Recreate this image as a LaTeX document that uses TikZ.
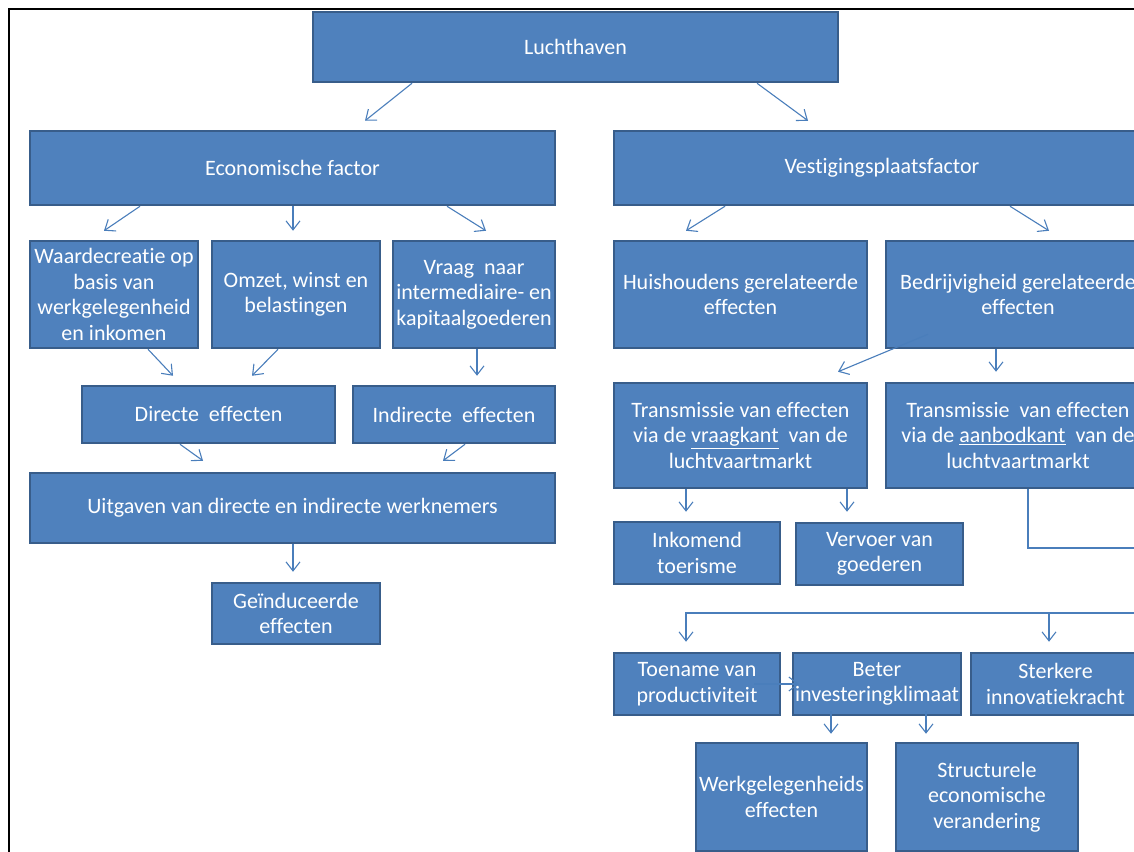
\documentclass[tikz,border=0pt]{standalone}
\usepackage{fontspec}
\setmainfont[Ligatures=NoCommon]{Carlito}
\usetikzlibrary{arrows.meta,calc}
\definecolor{boxfill}{HTML}{4F81BD}
\definecolor{boxline}{HTML}{385D8A}
\definecolor{linkblue}{HTML}{4A7EBB}

\begin{document}
\begin{tikzpicture}[x=1pt, y=-1pt,
  box/.style={draw=boxline, fill=boxfill, line width=2.5pt, text=white, align=center,
    inner sep=0pt, font=\fontsize{22}{25.5}\selectfont},
  arr/.style={draw=linkblue, line width=1.1pt, -{Straight Barb[length=9pt,width=14pt]}},
  link/.style={draw=linkblue, line width=1.1pt}]
\useasboundingbox (0,0) rectangle (1134,851);
%\draw[gray!20] (0,0) grid[step=50] (1134,851);
\draw[line width=2.8pt] (9,860) -- (9,9) -- (1150,9);
% top
\node[box, minimum width=525, minimum height=70] (lucht) at (575.5,47) {Luchthaven};
\node[box, minimum width=525, minimum height=74] (econ) at (292.5,168) {Economische factor};
\node[box, minimum width=536, minimum height=74] (vest) at (882,168) {Vestigingsplaatsfactor};
% left branch
\node[box, minimum width=168, minimum height=107] (waarde) at (114,294.5) {Waardecreatie op\\basis van\\werkgelegenheid\\en inkomen};
\node[box, minimum width=168, minimum height=107] (omzet) at (296,294.5) {Omzet, winst en\\belastingen};
\node[box, minimum width=162, minimum height=107] (vraag) at (474,294.5) {Vraag~~naar\\intermediaire- en\\kapitaalgoederen};
\node[box, minimum width=253, minimum height=57] (direct) at (208.5,414.5) {Directe~~effecten};
\node[box, minimum width=202, minimum height=57] (indirect) at (454,414.5) {Indirecte~~effecten};
\node[box, minimum width=525, minimum height=70] (uitgaven) at (292.5,508) {Uitgaven van directe en indirecte werknemers};
\node[box, minimum width=168, minimum height=61] (geind) at (296,613.5) {Geïnduceerde\\effecten};
% right branch
\node[box, minimum width=253, minimum height=107] (huis) at (740.5,294.5) {Huishoudens gerelateerde\\effecten};
\node[box, minimum width=264, minimum height=107] (bedrijf) at (1018,294.5) {Bedrijvigheid gerelateerde\\effecten};
\node[box, minimum width=253, minimum height=105] (transv) at (740.5,435.5) {Transmissie van effecten\\via de \underline{vraagkant}~~van de\\luchtvaartmarkt};
\node[box, minimum width=264, minimum height=105] (transa) at (1018,435.5) {Transmissie~~van effecten\\via de \underline{aanbodkant}~~van de\\luchtvaartmarkt};
\node[box, minimum width=166, minimum height=62] (inkomend) at (697,553) {Inkomend\\toerisme};
\node[box, minimum width=167, minimum height=62] (vervoer) at (879.5,554) {Vervoer van\\goederen};
\node[box, minimum width=166, minimum height=62] (toename) at (697,684) {Toename van\\productiviteit};
\node[box, minimum width=168, minimum height=62] (beter) at (877,684) {Beter\\investeringklimaat};
\node[box, minimum width=169, minimum height=62] (sterk) at (1055.5,684) {Sterkere\\innovatiekracht};
\node[box, minimum width=171, minimum height=108] (werk) at (781.5,797) {Werkgelegenheids\\effecten};
\node[box, minimum width=182, minimum height=108] (struct) at (987,797) {Structurele\\economische\\verandering};
\coordinate (offR) at (1150,548);
\coordinate (busR) at (1150,613);
\coordinate (busM) at (1049,613);
% arrows
\draw[arr] ($(lucht.south)+(-163.5,0)$) -- ($(econ.north)+(72.5,-9)$);
\draw[arr] ($(lucht.south)+(181.5,0)$) -- ($(vest.north)+(-74,-9)$);
\draw[arr] ($(econ.south)+(-152.5,0)$) -- ($(waarde.north)+(-10,-9)$);
\draw[arr] ($(econ.south)+(0.5,0)$) -- ($(omzet.north)+(-3,-9)$);
\draw[arr] ($(econ.south)+(154.5,0)$) -- ($(vraag.north)+(12,-9)$);
\draw[arr] ($(waarde.south)+(34,0)$) -- ($(direct.north)+(-35.5,-9)$);
\draw[arr] ($(omzet.south)+(-18,0)$) -- ($(direct.north)+(43.5,-9)$);
\draw[arr] ($(vraag.south)+(3,0)$) -- ($(indirect.north)+(23,-9)$);
\draw[arr] ($(direct.south)+(-28.5,0)$) -- ($(uitgaven.north)+(-89.5,-11)$);
\draw[arr] ($(indirect.south)+(11,0)$) -- ($(uitgaven.north)+(150.5,-11)$);
\draw[arr] ($(uitgaven.south)+(0.5,0)$) -- ($(geind.north)+(-3,-10)$);
\draw[arr] ($(vest.south)+(-157,0)$) -- ($(huis.north)+(-54.5,-9)$);
\draw[arr] ($(vest.south)+(128,0)$) -- ($(bedrijf.north)+(31,-9)$);
\draw[arr] ($(bedrijf.south)+(-90,-15)$) -- ($(transv.north)+(97.5,-10)$);
\draw[arr] ($(bedrijf.south)+(-22,0)$) -- ($(transa.north)+(-22,-10)$);
\draw[arr] ($(transv.south)+(-54.5,0)$) -- ($(inkomend.north)+(-11,-9)$);
\draw[arr] ($(transv.south)+(106.5,0)$) -- ($(vervoer.north)+(-32.5,-10)$);
\draw[link] ($(transa.south)+(10,0)$) |- (offR);
\draw[arr] (busR) -| ($(toename.north)+(-11,-10)$);
\draw[arr] (busM) -- ($(sterk.north)+(-6.5,-10)$);
\draw[arr] ($(toename.east)+(-27,0)$) -- ($(beter.west)+(7,0)$);
\draw[arr] ($(beter.south)+(-46,-5)$) -- ($(werk.north)+(49.5,-8)$);
\draw[arr] ($(beter.south)+(49,-5)$) -- ($(struct.north)+(-61,-8)$);
\end{tikzpicture}
\end{document}
